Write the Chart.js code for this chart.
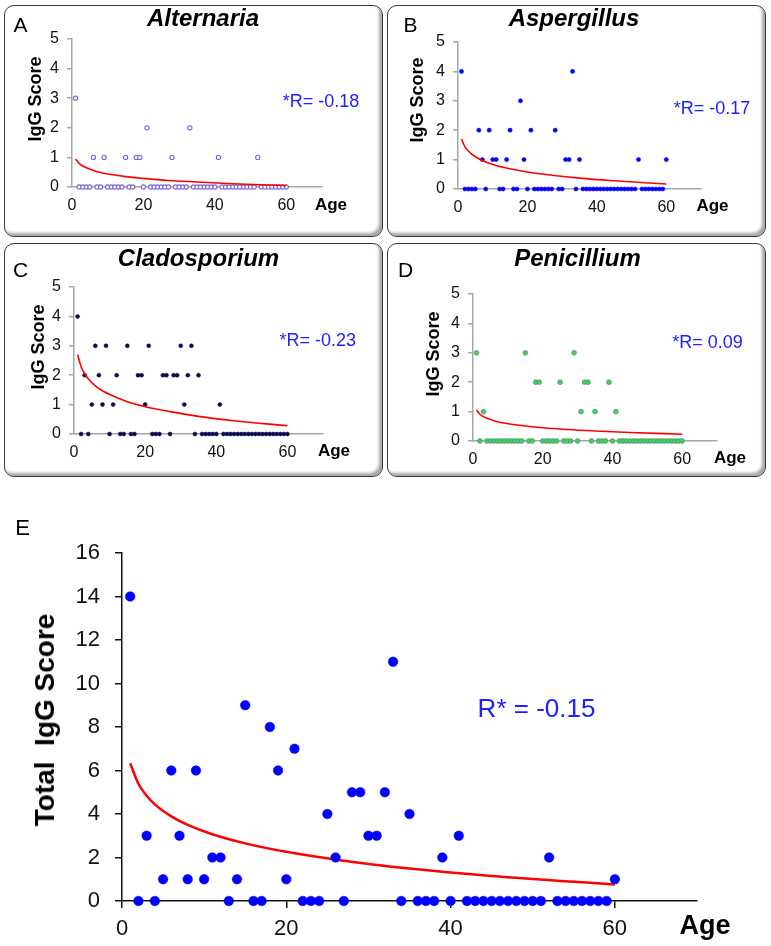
<!DOCTYPE html>
<html>
<head>
<meta charset="utf-8">
<script src="https://cdn.jsdelivr.net/npm/chart.js@4.4.0/dist/chart.umd.min.js"></script>
<style>
  body { margin: 0; background: #fff; font-family: 'Liberation Sans', Arial, sans-serif; }
  #page { position: relative; width: 771px; height: 946px; overflow: hidden; background: #fff; }
  .box { position: absolute; box-sizing: border-box; border: 1.3px solid #3a3a3a; border-radius: 10px;
         box-shadow: inset -3px -3px 3px rgba(0,0,0,0.35); }
  .holder { position: absolute; }
  .txt { position: absolute; transform: translate(-50%, -50%); white-space: pre; line-height: 1; color: #000; }
</style>
</head>
<body>
<div id="page"></div>
<script>
// ages of the patients (one point per age in every panel)
const ages = [1, 2, 3, 4, 5, 6, 7, 8, 9, 10,
  11, 12, 13, 14, 15, 16, 17, 18, 19, 20,
  21, 22, 23, 24, 25, 26, 27, 28, 29, 30,
  31, 32, 33, 34, 35, 36, 37, 38, 39, 40,
  41, 42, 43, 44, 45, 46, 47, 48, 49, 50,
  51, 52, 53, 54, 55, 56, 57, 58, 59, 60];

// IgG scores
const alternaria = [3, 0, 0, 0, 0, 1, 0, 0, 1, 0,
  0, 0, 0, 0, 1, 0, 0, 1, 1, 0,
  2, 0, 0, 0, 0, 0, 0, 1, 0, 0,
  0, 0, 2, 0, 0, 0, 0, 0, 0, 0,
  1, 0, 0, 0, 0, 0, 0, 0, 0, 0,
  0, 1, 0, 0, 0, 0, 0, 0, 0, 0];
const aspergillus = [4, 0, 0, 0, 0, 2, 1, 0, 2, 1,
  1, 0, 0, 1, 2, 0, 0, 3, 1, 0,
  2, 0, 0, 0, 0, 0, 0, 2, 0, 0,
  1, 1, 4, 0, 1, 0, 0, 0, 0, 0,
  0, 0, 0, 0, 0, 0, 0, 0, 0, 0,
  0, 1, 0, 0, 0, 0, 0, 0, 0, 1];
const cladosporium = [4, 0, 2, 0, 1, 3, 2, 1, 3, 0,
  1, 2, 0, 0, 3, 0, 0, 2, 2, 1,
  3, 0, 0, 0, 2, 2, 0, 2, 2, 3,
  1, 2, 3, 0, 2, 0, 0, 0, 0, 0,
  1, 0, 0, 0, 0, 0, 0, 0, 0, 0,
  0, 0, 0, 0, 0, 0, 0, 0, 0, 0];
const penicillium = [3, 0, 1, 0, 0, 0, 0, 0, 0, 0,
  0, 0, 0, 0, 3, 0, 0, 2, 2, 0,
  0, 0, 0, 0, 2, 0, 0, 0, 3, 0,
  1, 2, 2, 0, 1, 0, 0, 0, 2, 0,
  1, 0, 0, 0, 0, 0, 0, 0, 0, 0,
  0, 0, 0, 0, 0, 0, 0, 0, 0, 0];
const totalScore = [14, 0, 3, 0, 1, 6, 3, 1, 6, 1,
  2, 2, 0, 1, 9, 0, 0, 8, 6, 1,
  7, 0, 0, 0, 4, 2, 0, 5, 5, 3,
  3, 5, 11, 0, 4, 0, 0, 0, 2, 0,
  3, 0, 0, 0, 0, 0, 0, 0, 0, 0,
  0, 2, 0, 0, 0, 0, 0, 0, 0, 1];

// red trend curves at these ages
const trendAges = [1, 2, 3, 4, 6, 8, 11, 15, 20, 27, 35, 45, 60];
const trendAlternaria = [0.95, 0.80, 0.71, 0.65, 0.56, 0.49, 0.42, 0.35, 0.29, 0.22, 0.17, 0.11, 0.05];
const trendAspergillus = [1.70, 1.44, 1.29, 1.18, 1.03, 0.92, 0.80, 0.69, 0.58, 0.47, 0.37, 0.28, 0.17];
const trendCladosporium = [2.70, 2.29, 2.05, 1.88, 1.64, 1.47, 1.29, 1.10, 0.93, 0.76, 0.60, 0.45, 0.28];
const trendPenicillium = [1.05, 0.91, 0.83, 0.77, 0.69, 0.63, 0.57, 0.51, 0.45, 0.39, 0.34, 0.29, 0.23];
const trendTotal = [6.33, 5.39, 4.84, 4.44, 3.89, 3.50, 3.07, 2.65, 2.26, 1.85, 1.49, 1.15, 0.76];

// tick labels
const xTicks = [0, 20, 40, 60];
const yTicksPanel = [0, 1, 2, 3, 4, 5];
const yTicksTotal = [0, 2, 4, 6, 8, 10, 12, 14, 16];

const page = document.getElementById('page');
const FONT = "'Liberation Sans', Arial, sans-serif";

function addBox(x, y, w, h) {
  const d = document.createElement('div');
  d.className = 'box';
  Object.assign(d.style, { left: x + 'px', top: y + 'px', width: w + 'px', height: h + 'px' });
  page.appendChild(d);
}

function addText(str, x, y, size, o = {}) {
  const d = document.createElement('div');
  d.className = 'txt';
  d.textContent = str;
  d.style.left = x + 'px';
  d.style.top = y + 'px';
  d.style.fontSize = size + 'px';
  if (o.bold) d.style.fontWeight = 'bold';
  if (o.italic) d.style.fontStyle = 'italic';
  if (o.color) d.style.color = o.color;
  if (o.rotate) d.style.transform = 'translate(-50%, -50%) rotate(-90deg)';
  page.appendChild(d);
}

function drawPanel(p) {
  const holder = document.createElement('div');
  holder.className = 'holder';
  Object.assign(holder.style, { left: p.x + 'px', top: p.y + 'px', width: p.w + 'px', height: p.h + 'px' });
  const cv = document.createElement('canvas');
  cv.width = p.w;
  cv.height = p.h;
  holder.appendChild(cv);
  page.appendChild(holder);

  const points = {
    label: 'IgG',
    data: ages.map((a, i) => ({ x: a, y: p.values[i] })),
    showLine: false,
    pointStyle: 'circle',
    pointRadius: p.r,
    pointBackgroundColor: p.fill,
    pointBorderColor: p.stroke,
    pointBorderWidth: p.sw,
    clip: false,
    order: p.dotsOnTop ? 0 : 1
  };
  const trend = {
    type: 'line',
    label: 'trend',
    data: trendAges.map((a, i) => ({ x: a, y: p.trend[i] })),
    borderColor: '#ff0000',
    borderWidth: p.lw,
    pointRadius: 0,
    fill: false,
    cubicInterpolationMode: 'monotone',
    clip: false,
    order: p.dotsOnTop ? 1 : 0
  };

  new Chart(cv, {
    type: 'scatter',
    data: { datasets: [points, trend] },
    options: {
      responsive: false,
      animation: false,
      events: [],
      layout: {
        padding: {
          left: p.plot.l - p.x - p.yW,
          right: p.x + p.w - p.plot.r,
          top: p.plot.t - p.y,
          bottom: p.y + p.h - p.plot.b - p.xH
        }
      },
      plugins: { legend: { display: false }, tooltip: { enabled: false } },
      scales: {
        x: {
          type: 'linear', min: 0, max: 70,
          afterBuildTicks: s => { s.ticks = xTicks.map(v => ({ value: v })); },
          afterFit: s => { s.height = p.xH; },
          grid: { drawOnChartArea: false, drawTicks: p.xTickLen > 0, tickLength: p.xTickLen,
                  color: p.axis, lineWidth: p.axisW },
          border: { color: p.axis, width: p.axisW },
          ticks: { font: { family: FONT, size: p.fs }, color: '#111', padding: p.xPad,
                   maxRotation: 0, autoSkip: false }
        },
        y: {
          min: 0, max: p.yMax,
          afterBuildTicks: s => { s.ticks = p.yTicks.map(v => ({ value: v })); },
          afterFit: s => { s.width = p.yW; },
          grid: { drawOnChartArea: false, tickLength: p.yTickLen, color: p.axis, lineWidth: p.axisW },
          border: { color: p.axis, width: p.axisW },
          ticks: { font: { family: FONT, size: p.fs }, color: '#111', padding: p.yPad, autoSkip: false }
        }
      }
    }
  });
}

const small = {
  w: 379, yW: 40, xH: 30, fs: 16, axis: '#a6a6a6', axisW: 1.5,
  xTickLen: 0, xPad: 9, yTickLen: 5, yPad: 8, yMax: 5, yTicks: yTicksPanel, lw: 1.6
};

// panel frames
addBox(4, 5, 379, 232);
addBox(387, 5, 379, 232);
addBox(4, 243, 379, 234);
addBox(387, 243, 379, 234);

drawPanel(Object.assign({}, small, {
  x: 4, y: 5, h: 232, plot: { l: 72, r: 322, t: 39, b: 187 },
  values: alternaria, trend: trendAlternaria,
  r: 2.1, fill: '#ffffff', stroke: '#7a66d6', sw: 1.1, dotsOnTop: false
}));
drawPanel(Object.assign({}, small, {
  x: 387, y: 5, h: 232, plot: { l: 458, r: 701, t: 42, b: 189 },
  values: aspergillus, trend: trendAspergillus,
  r: 2.1, fill: '#0000ff', stroke: '#0000ff', sw: 0.5, dotsOnTop: false
}));
drawPanel(Object.assign({}, small, {
  x: 4, y: 243, h: 234, plot: { l: 74, r: 323, t: 287, b: 434 },
  values: cladosporium, trend: trendCladosporium,
  r: 2.0, fill: '#0a0a50', stroke: '#0a0a50', sw: 0.5, dotsOnTop: false
}));
drawPanel(Object.assign({}, small, {
  x: 387, y: 243, h: 234, plot: { l: 473, r: 717, t: 294, b: 441 },
  values: penicillium, trend: trendPenicillium,
  r: 2.4, fill: '#33e033', stroke: '#7070c0', sw: 0.7, dotsOnTop: false
}));
drawPanel({
  x: 0, y: 478, w: 771, h: 468, plot: { l: 122, r: 697, t: 553, b: 901 },
  yW: 70, xH: 35, fs: 22, axis: '#111', axisW: 1.5,
  xTickLen: 7, xPad: 8, yTickLen: 7, yPad: 15, yMax: 16, yTicks: yTicksTotal, lw: 2.5,
  values: totalScore, trend: trendTotal,
  r: 4.8, fill: '#0000ff', stroke: '#0000ff', sw: 0.5, dotsOnTop: true
});

// panel texts
const blue = '#2020ff';
addText('A', 20.5, 24, 21);
addText('Alternaria', 203, 18, 24, { bold: true, italic: true });
addText('IgG Score', 34.5, 98.5, 18, { bold: true, rotate: true });
addText('*R= -0.18', 321, 100.5, 18, { color: blue });
addText('Age', 331, 204, 17, { bold: true });

addText('B', 410.5, 24, 21);
addText('Aspergillus', 574, 17.5, 24, { bold: true, italic: true });
addText('IgG Score', 416.5, 100, 18, { bold: true, rotate: true });
addText('*R= -0.17', 712, 108, 18, { color: blue });
addText('Age', 712.5, 205, 17, { bold: true });

addText('C', 20.5, 269, 21);
addText('Cladosporium', 198.5, 257.5, 24, { bold: true, italic: true });
addText('IgG Score', 38, 346.5, 18, { bold: true, rotate: true });
addText('*R= -0.23', 317.7, 340, 18, { color: blue });
addText('Age', 334, 450, 17, { bold: true });

addText('D', 405.5, 269, 21);
addText('Penicillium', 577.5, 257.5, 24, { bold: true, italic: true });
addText('IgG Score', 433, 353.5, 18, { bold: true, rotate: true });
addText('*R= 0.09', 707.5, 341.5, 18, { color: blue });
addText('Age', 730, 457, 17, { bold: true });

addText('E', 22.7, 528, 22);
addText('Total  IgG Score', 45, 720, 28, { bold: true, rotate: true });
addText('R* = -0.15', 536.5, 707.5, 26, { color: blue });
addText('Age', 705, 924.5, 27, { bold: true });
</script>
</body>
</html>
